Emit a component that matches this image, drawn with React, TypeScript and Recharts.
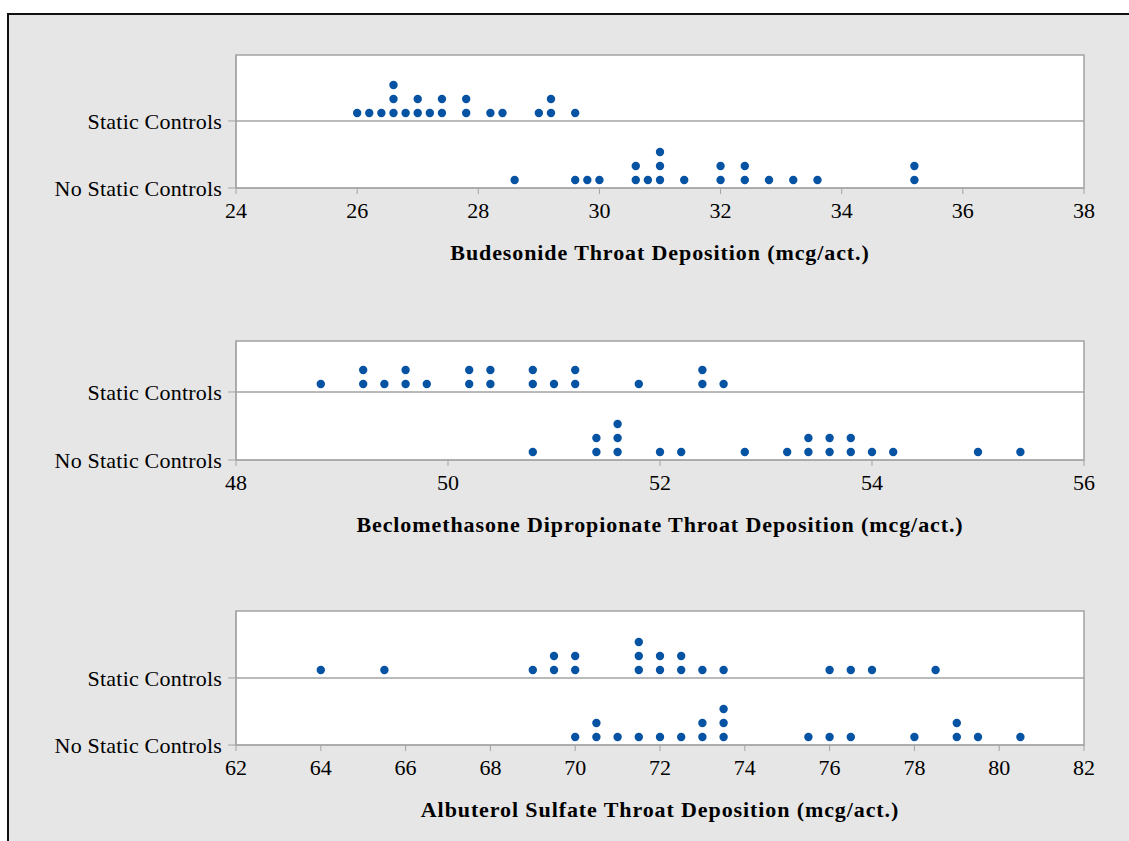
import React from "react";
import {
  ScatterChart,
  Scatter,
  XAxis,
  YAxis,
  ReferenceArea,
  ReferenceLine,
} from "recharts";

// ---------------------------------------------------------------------------
// Data (mcg/act., one dot per measurement)
// ---------------------------------------------------------------------------

const budesonideStatic = [
  26.0, 26.2, 26.4, 26.6, 26.6, 26.6, 26.8, 27.0, 27.0, 27.2, 27.4, 27.4, 27.8,
  27.8, 28.2, 28.4, 29.0, 29.2, 29.2, 29.6,
];
const budesonideNoStatic = [
  28.6, 29.6, 29.8, 30.0, 30.6, 30.6, 30.8, 31.0, 31.0, 31.0, 31.4, 32.0, 32.0,
  32.4, 32.4, 32.8, 33.2, 33.6, 35.2, 35.2,
];
const bdpStatic = [
  48.8, 49.2, 49.2, 49.4, 49.6, 49.6, 49.8, 50.2, 50.2, 50.4, 50.4, 50.8, 50.8,
  51.0, 51.2, 51.2, 51.8, 52.4, 52.4, 52.6,
];
const bdpNoStatic = [
  50.8, 51.4, 51.4, 51.6, 51.6, 51.6, 52.0, 52.2, 52.8, 53.2, 53.4, 53.4, 53.6,
  53.6, 53.8, 53.8, 54.0, 54.2, 55.0, 55.4,
];
const albuterolStatic = [
  64.0, 65.5, 69.0, 69.5, 69.5, 70.0, 70.0, 71.5, 71.5, 71.5, 72.0, 72.0, 72.5,
  72.5, 73.0, 73.5, 76.0, 76.5, 77.0, 78.5,
];
const albuterolNoStatic = [
  70.0, 70.5, 70.5, 71.0, 71.5, 72.0, 72.5, 73.0, 73.0, 73.5, 73.5, 73.5, 75.5,
  76.0, 76.5, 78.0, 79.0, 79.0, 79.5, 80.5,
];

const budesonideTicks = [24, 26, 28, 30, 32, 34, 36, 38];
const bdpTicks = [48, 50, 52, 54, 56];
const albuterolTicks = [62, 64, 66, 68, 70, 72, 74, 76, 78, 80, 82];

const groupLabels = ["No Static Controls", "Static Controls"];

// ---------------------------------------------------------------------------
// Helpers
// ---------------------------------------------------------------------------

const FONT = '"Liberation Serif", "Times New Roman", serif';
const DOT = "#0652a3";
const FRAME = "#a3a3a3";
const DOT_LIFT = 0.57; // dots sit a little above their group line

// dot plot: repeated values stack upward one unit each
function stack(vals: number[], base: number) {
  const seen: Record<string, number> = {};
  return vals.map((v) => {
    const k = seen[v] ?? 0;
    seen[v] = k + 1;
    return { x: v, y: base + DOT_LIFT + k };
  });
}

const Dot = (p: any) => <circle cx={p.cx} cy={p.cy} r={4.2} fill={DOT} />;

interface PanelProps {
  plotTop: number;
  plotH: number;
  yMax: number;
  staticY: number;
  ticks: number[];
  title: string;
  staticVals: number[];
  noStaticVals: number[];
}

function Panel({
  plotTop,
  plotH,
  yMax,
  staticY,
  ticks,
  title,
  staticVals,
  noStaticVals,
}: PanelProps) {
  const x0 = ticks[0];
  const x1 = ticks[ticks.length - 1];
  const pts = [...stack(noStaticVals, 0), ...stack(staticVals, staticY)];

  return (
    <div style={{ position: "absolute", left: 0, top: plotTop - 10 }}>
      <ScatterChart
        width={1129}
        height={10 + plotH + 80}
        margin={{ top: 10, right: 45, bottom: 0, left: 0 }}
      >
        <XAxis
          type="number"
          dataKey="x"
          domain={[x0, x1]}
          ticks={ticks}
          interval={0}
          height={80}
          tickSize={6}
          tickMargin={8}
          stroke={FRAME}
          tick={{ fill: "#000", fontSize: 22, fontFamily: FONT }}
          label={{
            value: title,
            position: "insideBottom",
            offset: 8,
            style: {
              fill: "#000",
              fontSize: 22,
              fontWeight: "bold",
              fontFamily: FONT,
              letterSpacing: 0.9,
            },
          }}
        />
        <YAxis
          type="number"
          dataKey="y"
          domain={[0, yMax]}
          ticks={[0, staticY]}
          interval={0}
          width={236}
          tickSize={8}
          tickMargin={6}
          stroke={FRAME}
          tickFormatter={(v: number) => (v === 0 ? groupLabels[0] : groupLabels[1])}
          tick={{
            fill: "#000",
            fontSize: 22,
            fontFamily: FONT,
            letterSpacing: 0.2,
          }}
        />
        <ReferenceArea
          x1={x0}
          x2={x1}
          y1={0}
          y2={yMax}
          fill="#fff"
          fillOpacity={1}
          stroke={FRAME}
          strokeWidth={1.5}
        />
        <ReferenceLine y={staticY} stroke={FRAME} strokeWidth={1.5} />
        <Scatter data={pts} shape={Dot} isAnimationActive={false} />
      </ScatterChart>
    </div>
  );
}

// ---------------------------------------------------------------------------
// App
// ---------------------------------------------------------------------------

export default function App() {
  return (
    <div
      style={{
        position: "absolute",
        left: 0,
        top: 0,
        width: 1129,
        height: 841,
        background: "#fff",
        overflow: "hidden",
      }}
    >
      <div
        style={{
          position: "absolute",
          left: 7,
          top: 13,
          right: 0,
          bottom: 0,
          background: "#e6e6e6",
          borderLeft: "2px solid #111",
          borderTop: "2px solid #111",
        }}
      />
      <Panel
        plotTop={55}
        plotH={133}
        yMax={9.5}
        staticY={4.79}
        ticks={budesonideTicks}
        title="Budesonide Throat Deposition (mcg/act.)"
        staticVals={budesonideStatic}
        noStaticVals={budesonideNoStatic}
      />
      <Panel
        plotTop={341}
        plotH={119}
        yMax={8.5}
        staticY={4.86}
        ticks={bdpTicks}
        title="Beclomethasone Dipropionate Throat Deposition (mcg/act.)"
        staticVals={bdpStatic}
        noStaticVals={bdpNoStatic}
      />
      <Panel
        plotTop={611}
        plotH={134}
        yMax={9.57}
        staticY={4.79}
        ticks={albuterolTicks}
        title="Albuterol Sulfate Throat Deposition (mcg/act.)"
        staticVals={albuterolStatic}
        noStaticVals={albuterolNoStatic}
      />
    </div>
  );
}
